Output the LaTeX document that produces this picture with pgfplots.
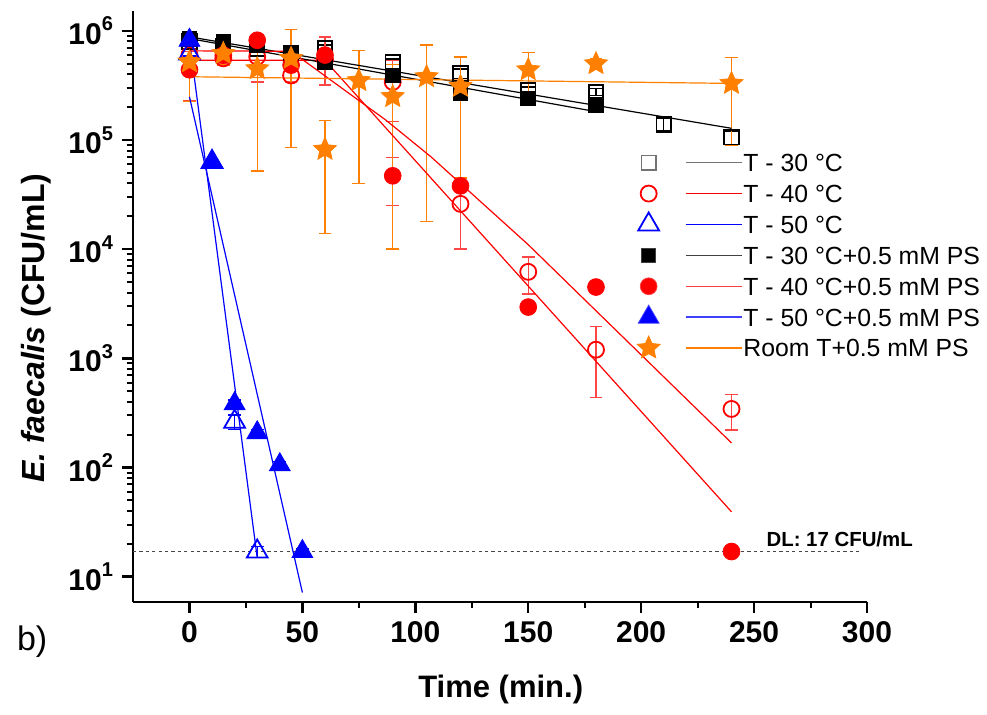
\documentclass[border=0pt]{standalone}
\usepackage{fontspec}
\setmainfont{Liberation Sans}
\usepackage{pgfplots}
\pgfplotsset{compat=1.18}
\usetikzlibrary{calc}

\definecolor{orig}{RGB}{255,128,0}
\definecolor{dlgray}{RGB}{70,70,70}
\definecolor{errred}{RGB}{255,70,70}

% five-pointed filled star (Origin style)
\pgfdeclareplotmark{fstar}{%
  \pgfpathmoveto{\pgfpointpolar{90}{\pgfplotmarksize}}%
  \pgfpathlineto{\pgfpointpolar{126}{0.47\pgfplotmarksize}}%
  \pgfpathlineto{\pgfpointpolar{162}{\pgfplotmarksize}}%
  \pgfpathlineto{\pgfpointpolar{198}{0.47\pgfplotmarksize}}%
  \pgfpathlineto{\pgfpointpolar{234}{\pgfplotmarksize}}%
  \pgfpathlineto{\pgfpointpolar{270}{0.47\pgfplotmarksize}}%
  \pgfpathlineto{\pgfpointpolar{306}{\pgfplotmarksize}}%
  \pgfpathlineto{\pgfpointpolar{342}{0.47\pgfplotmarksize}}%
  \pgfpathlineto{\pgfpointpolar{18}{\pgfplotmarksize}}%
  \pgfpathlineto{\pgfpointpolar{54}{0.47\pgfplotmarksize}}%
  \pgfpathclose
  \pgfusepathqfillstroke}

\newcommand{\dec}[1]{10\raisebox{0.45em}{\fontsize{10}{10}\selectfont #1}}

\pgfplotsset{
  sq/.style={black, mark=square, mark size=3.6pt, mark options={solid, line width=0.9pt, fill=none}},
  sqf/.style={black, mark=square*, mark size=3.6pt, mark options={solid, line width=0.6pt, fill=black}},
  ci/.style={red, mark=o, mark size=4pt, mark options={solid, line width=0.9pt, fill=none}},
  cif/.style={red, mark=*, mark size=4.2pt, mark options={solid, line width=0.4pt, fill=red}},
  tr/.style={blue, mark=triangle, mark size=6pt, mark options={solid, line width=0.9pt, fill=none}},
  trf/.style={blue, mark=triangle*, mark size=6pt, mark options={solid, line width=0.4pt, fill=blue}},
  st/.style={orig, mark=fstar, mark size=6pt, mark options={solid, line width=0.4pt, fill=orig}},
  fit/.style={line width=0.6pt, mark=none},
}

\begin{document}
\begin{tikzpicture}
\begin{axis}[
  name=ax,
  scale only axis,
  width=367pt, height=295.35pt,
  xmin=-25, xmax=300,
  ymode=log, ymin=5.9, ymax=1.52e6,
  clip=false,
  axis x line*=bottom, axis y line*=left,
  axis line style={line width=1.2pt, -},
  xtick={0,50,100,150,200,250,300},
  minor x tick num=1,
  ytick={10,100,1000,10000,100000,1000000},
  yticklabels={\dec{1},\dec{2},\dec{3},\dec{4},\dec{5},\dec{6}},
  tick align=outside,
  major tick length=5.5pt,
  minor tick length=3.2pt,
  every tick/.style={black, line width=1.2pt},
  minor tick style={line width=1pt},
  /pgf/number format/assume math mode=true,
  tick label style={font=\bfseries\fontsize{15}{15}\selectfont},
  xticklabel style={yshift=-1pt},
  yticklabel style={xshift=-1pt},
  every axis x label/.style={at={(rel axis cs:0.501,-0.149)}, anchor=center},
  every axis y label/.style={at={(rel axis cs:-0.132,0.463)}, rotate=90, anchor=center},
  xlabel={\bfseries\fontsize{15.5}{15.5}\selectfont Time (min.)},
  ylabel={\bfseries\fontsize{16}{16}\selectfont\textit{E. faecalis} (CFU/mL)},
  error bars/y dir=both,
  error bars/y explicit,
  error bars/error mark=-,
  error bars/error mark options={rotate=90, solid, mark size=3.2pt, line width=0.7pt},
  error bars/error bar style={line width=0.7pt},
  legend image code/.code={%
    \path[draw=none, fill=none] (0pt,-4pt) rectangle (46.5pt,4pt);
    \draw[#1, mark=none] plot coordinates {(18.5pt,0pt) (46.5pt,0pt)};
    \pgfinterruptboundingbox
    \draw[#1] plot coordinates {(0pt,0pt)};
    \endpgfinterruptboundingbox
  },
  legend cell align=left,
  legend style={at={(rel axis cs:0.702,0.759)}, anchor=north west,
    draw=none, fill=none, inner sep=0pt, row sep=6.55pt,
    font=\fontsize{12.4}{12.4}\selectfont,
    nodes={inner xsep=0.5pt, inner ysep=0pt, text height=8.9pt, text depth=0pt}},
]

% detection limit
\addplot[forget plot, dlgray, line width=0.6pt, dash pattern=on 1.6pt off 1.6pt] coordinates {(-25,17) (298,17)};

% T - 30 C (open squares)
\addplot[sq, only marks, forget plot, error bars/error bar style={black}] coordinates {
  (0,8.0e5) +- (0,4e4)
  (15,7.2e5) +- (0,4e4)
  (30,6.8e5) +- (0,4e4)
  (45,6.2e5) +- (0,4e4)
  (60,6.9e5) +- (0,5e4)
  (90,5.2e5) +- (0,3e4)
  (120,4.07e5) +- (0,4e4)
  (150,2.86e5) +- (0,2e4)
  (180,2.76e5) +- (0,2e4)
  (210,1.39e5) +- (0,1.8e4)
  (240,1.06e5) +- (0,1.5e4)
};
% T - 40 C (open circles)
\addplot[ci, only marks, forget plot, error bars/error bar style={errred}] coordinates {
  (0,6.0e5) +- (0,5e4)
  (15,5.6e5) +- (0,5e4)
  (30,5.8e5) +- (0,2.4e5)
  (45,3.9e5) +- (0,5e4)
  (60,5.5e5) +- (0,5e4)
  (90,3.4e5) +- (0,1.92e5)
  (120,2.6e4) +- (0,1.6e4)
  (150,6.2e3) +- (0,2.3e3)
  (180,1.2e3) +- (0,7.6e2)
  (240,344) +- (0,124)
};
% T - 50 C (open triangles)
\addplot[tr, only marks, forget plot, error bars/error bar style={blue}] coordinates {
  (0,6.2e5) +- (0,3e4)
  (10,6.3e4) +- (0,3e3)
  (20,263) +- (0,40)
  (30,17) +- (0,2)
};
% T - 30 C + PS (filled squares)
\addplot[sqf, only marks, forget plot, error bars/error bar style={black}] coordinates {
  (0,8.4e5) +- (0,3e4)
  (15,7.9e5) +- (0,3e4)
  (30,7.4e5) +- (0,3e4)
  (45,6.2e5) +- (0,3e4)
  (60,5.2e5) +- (0,3e4)
  (90,3.9e5) +- (0,3e4)
  (120,2.7e5) +- (0,3e4)
  (150,2.4e5) +- (0,2e4)
  (180,2.1e5) +- (0,2e4)
};
% T - 40 C + PS (filled circles)
\addplot[cif, only marks, forget plot, error bars/error bar style={errred}] coordinates {
  (0,4.4e5) +- (0,2.1e5)
  (15,6.0e5) +- (0,1.0e5)
  (30,8.2e5) +- (0,5e4)
  (45,4.85e5) +- (0,5e4)
  (60,6.0e5) +- (0,2.8e5)
  (90,4.7e4) +- (0,2.2e4)
  (120,3.8e4) +- (0,3e3)
  (150,2.95e3) +- (0,3e2)
  (180,4.5e3) +- (0,4e2)
  (240,17) +- (0,1)
};
% T - 50 C + PS (filled triangles)
\addplot[trf, only marks, forget plot, error bars/error bar style={blue}] coordinates {
  (0,8.2e5) +- (0,3e4)
  (10,6.3e4) +- (0,3e3)
  (20,385) +- (0,30)
  (30,208) +- (0,15)
  (40,106) +- (0,8)
  (50,17) +- (0,1)
};
% Room T + PS (stars)
\addplot[st, only marks, forget plot, error bars/error bar style={orig}] coordinates {
  (0,5.2e5) +- (0,2.96e5)
  (15,6.2e5) +- (0,1.35e5)
  (30,4.5e5) +- (0,3.98e5)
  (45,5.6e5) +- (0,4.75e5)
  (60,8.2e4) +- (0,6.8e4)
  (75,3.5e5) +- (0,3.1e5)
  (90,2.5e5) +- (0,2.4e5)
  (105,3.8e5) +- (0,3.62e5)
  (120,3.1e5) +- (0,2.65e5)
  (150,4.4e5) +- (0,1.9e5)
  (180,5.0e5) +- (0,6e4)
  (240,3.3e5) +- (0,2.4e5)
};

% fitted lines
\addplot[fit, black, forget plot] coordinates {(0,8.81e5) (240,1.28e5)};
\addplot[fit, red, forget plot] coordinates {(0,5.37e5) (60,5.37e5) (240,39.3)};
\addplot[fit, blue, forget plot] coordinates {(0,8.2e5) (30,14.9)};
\addplot[fit, black, forget plot] coordinates {(0,8.5e5) (180,1.82e5)};
\addplot[fit, red, forget plot] coordinates {(0,6.56e5) (45,6.5e5) (87,1.52e5) (107,7.0e4) (150,1.1e4) (240,168)};
\addplot[fit, blue, forget plot] coordinates {(0,2.49e5) (50,7.16)};
\addplot[fit, orig, forget plot] coordinates {(0,3.8e5) (240,3.3e5)};

\node[anchor=base west, font=\bfseries\fontsize{10.2}{10.2}\selectfont] at (axis cs:252.4,18.9) {DL: 17 CFU/mL};

% legend
\addlegendimage{sq, line width=0.7pt, color=black!55}
\addlegendentry{T - 30 °C}
\addlegendimage{ci, line width=0.7pt, color=red}
\addlegendentry{T - 40 °C}
\addlegendimage{tr, line width=0.7pt, color=blue}
\addlegendentry{T - 50 °C}
\addlegendimage{sqf, line width=0.7pt, color=black!75}
\addlegendentry{T - 30 °C+0.5 mM PS}
\addlegendimage{cif, line width=0.7pt, color=red!75}
\addlegendentry{T - 40 °C+0.5 mM PS}
\addlegendimage{trf, line width=0.7pt, color=blue!75}
\addlegendentry{T - 50 °C+0.5 mM PS}
\addlegendimage{st, line width=0.7pt, color=orig}
\addlegendentry{Room T+0.5 mM PS}
\end{axis}
\node[anchor=base west, font=\fontsize{17}{17}\selectfont] at ($(ax.south west)+(-61.5pt,-24.15pt)$) {b)};
\pgfresetboundingbox
\path ($(ax.south west)+(-66.5pt,-56.15pt)$) rectangle ($(ax.north east)+(60pt,5.5pt)$);
\end{tikzpicture}
\end{document}
